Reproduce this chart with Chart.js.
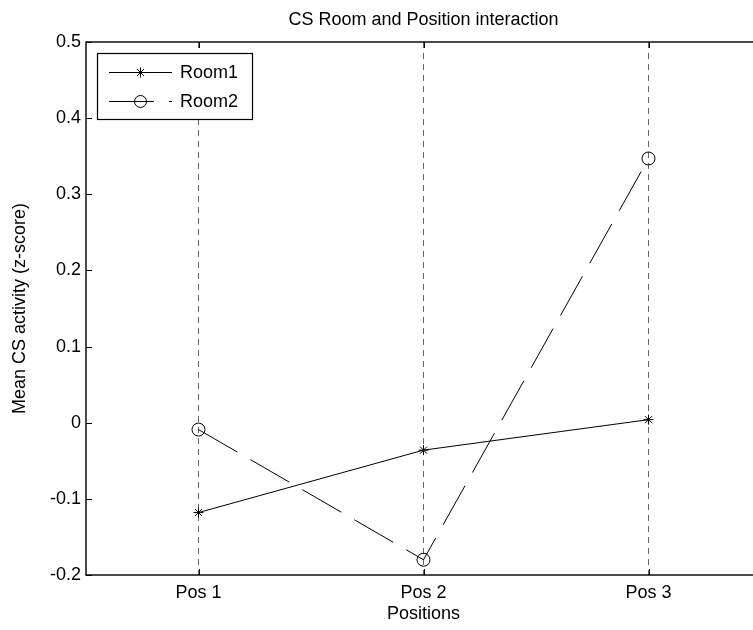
<!DOCTYPE html>
<html>
<head>
<meta charset="utf-8">
<script src="https://cdn.jsdelivr.net/npm/chart.js@4.4.1/dist/chart.umd.min.js"></script>
<style>
  html, body { margin: 0; padding: 0; background: #fff; }
  #wrap { width: 753px; height: 630px; overflow: hidden; background: #fff; }
</style>
</head>
<body>
<div id="wrap"><canvas id="c" width="780" height="630"></canvas></div>
<script>
// Positions along the x axis
const categories = ['Pos 1', 'Pos 2', 'Pos 3'];
// Mean CS activity (z-score) per room
const room1 = [-0.118, -0.036, 0.004];
const room2 = [-0.009, -0.180, 0.347];
// Y axis tick values
const yTicks = [-0.2, -0.1, 0, 0.1, 0.2, 0.3, 0.4, 0.5];

const FONT = { family: '"Liberation Sans", Arial, Helvetica, sans-serif', size: 18 };
const DASH = [45, 15];

// Box frame with inward tick marks and a boxed legend, drawn after the datasets
const framePlugin = {
  id: 'frame',
  afterDatasetsDraw(chart) {
    const { ctx, chartArea: a, scales } = chart;
    ctx.save();
    ctx.strokeStyle = '#000';
    ctx.lineWidth = 1.4;
    ctx.strokeRect(a.left, a.top, a.right - a.left, a.bottom - a.top);
    ctx.lineWidth = 1;
    const tl = 6;
    ctx.beginPath();
    yTicks.forEach(v => {
      const y = Math.round(scales.y.getPixelForValue(v)) + 0.5;
      ctx.moveTo(a.left, y); ctx.lineTo(a.left + tl, y);
      ctx.moveTo(a.right, y); ctx.lineTo(a.right - tl, y);
    });
    categories.forEach((c, i) => {
      const x = Math.round(scales.x.getPixelForValue(i)) + 0.5;
      ctx.moveTo(x, a.bottom); ctx.lineTo(x, a.bottom - tl);
      ctx.moveTo(x, a.top); ctx.lineTo(x, a.top + tl);
    });
    ctx.stroke();

    // legend
    const lx = 97, ly = 53, lw = 155, lh = 66;
    ctx.fillStyle = '#fff';
    ctx.fillRect(lx, ly, lw, lh);
    ctx.lineWidth = 1.2;
    ctx.strokeStyle = '#000';
    ctx.strokeRect(lx + 0.5, ly + 0.5, lw, lh);
    const rows = [
      { label: chart.data.datasets[0].label, y: 72.5, dash: [], marker: 'star' },
      { label: chart.data.datasets[1].label, y: 101.5, dash: DASH, marker: 'circle' }
    ];
    ctx.font = FONT.size + 'px ' + FONT.family;
    ctx.textBaseline = 'middle';
    ctx.textAlign = 'left';
    rows.forEach(r => {
      ctx.lineWidth = 1;
      ctx.setLineDash(r.dash);
      ctx.beginPath();
      ctx.moveTo(109, r.y); ctx.lineTo(172, r.y);
      ctx.stroke();
      ctx.setLineDash([]);
      const cx = 140.5;
      ctx.beginPath();
      if (r.marker === 'star') {
        const s = 5;
        ctx.moveTo(cx - s, r.y); ctx.lineTo(cx + s, r.y);
        ctx.moveTo(cx, r.y - s); ctx.lineTo(cx, r.y + s);
        const d = s * 0.7071;
        ctx.moveTo(cx - d, r.y - d); ctx.lineTo(cx + d, r.y + d);
        ctx.moveTo(cx - d, r.y + d); ctx.lineTo(cx + d, r.y - d);
      } else {
        ctx.arc(cx, r.y, 6, 0, Math.PI * 2);
      }
      ctx.stroke();
      ctx.fillStyle = '#000';
      ctx.fillText(r.label, 180, r.y + 1);
    });
    ctx.restore();
  }
};

new Chart(document.getElementById('c'), {
  type: 'line',
  data: {
    labels: categories,
    datasets: [
      {
        label: 'Room1',
        data: room1,
        borderColor: '#000',
        borderWidth: 1,
        tension: 0,
        fill: false,
        pointStyle: 'star',
        pointRadius: 5,
        pointBorderColor: '#000',
        pointBorderWidth: 1,
        pointBackgroundColor: '#000'
      },
      {
        label: 'Room2',
        data: room2,
        borderColor: '#000',
        borderWidth: 1,
        borderDash: DASH,
        tension: 0,
        fill: false,
        pointStyle: 'circle',
        pointRadius: 6.5,
        pointBorderColor: '#000',
        pointBorderWidth: 1,
        pointBackgroundColor: 'rgba(0,0,0,0)'
      }
    ]
  },
  options: {
    responsive: false,
    animation: false,
    devicePixelRatio: 1,
    layout: { padding: { left: 0, right: 19, top: 0, bottom: 0 } },
    plugins: {
      legend: { display: false },
      tooltip: { enabled: false },
      title: {
        display: true,
        text: 'CS Room and Position interaction',
        fullSize: false,
        color: '#000',
        font: { ...FONT, weight: 'normal' },
        padding: { top: 9.2, bottom: 11.2 }
      }
    },
    scales: {
      x: {
        type: 'category',
        offset: true,
        grid: { offset: false, color: '#666', lineWidth: 1, drawTicks: false },
        border: { display: false, dash: [6, 5] },
        ticks: { color: '#000', font: FONT, padding: 7.5, maxRotation: 0 },
        title: {
          display: true,
          text: 'Positions',
          color: '#000',
          font: FONT,
          padding: { top: 0, bottom: 5 }
        },
        afterFit(s) { s.height = 55; }
      },
      y: {
        type: 'linear',
        min: -0.2,
        max: 0.5,
        afterBuildTicks(s) { s.ticks = yTicks.map(v => ({ value: v })); },
        grid: { display: false, drawTicks: false },
        border: { display: false },
        ticks: {
          color: '#000',
          font: FONT,
          padding: 5,
          callback: v => String(Math.round(v * 10) / 10)
        },
        title: {
          display: true,
          text: 'Mean CS activity (z-score)',
          color: '#000',
          font: FONT,
          padding: { top: 9, bottom: 0 }
        },
        afterFit(s) { s.width = 86; }
      }
    }
  },
  plugins: [framePlugin]
});
</script>
</body>
</html>
